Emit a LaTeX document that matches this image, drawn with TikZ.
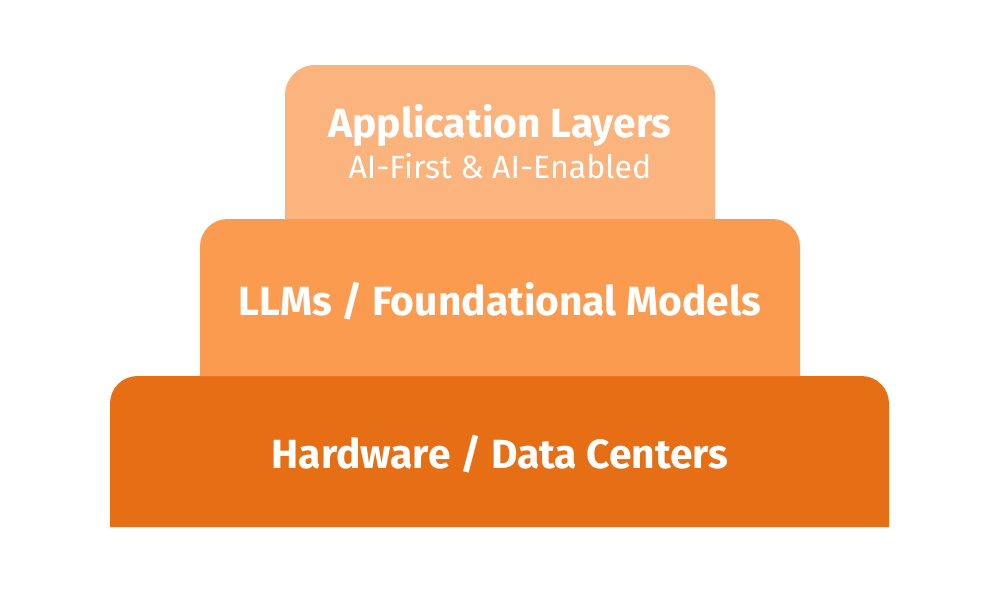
\documentclass[tikz,border=0pt]{standalone}
\usepackage{fontspec}
\setmainfont{Fira Sans}
\usepackage{xcolor}
\definecolor{apptone}{RGB}{251,180,126}
\definecolor{modeltone}{RGB}{250,155,80}
\definecolor{hwtone}{RGB}{230,110,20}

\tikzset{
  layertitle/.style={align=center, text=white, font=\fontsize{23.2}{27}\selectfont\bfseries},
  layersub/.style={align=center, text=white, font=\fontsize{18.3}{22}\selectfont}
}

\begin{document}
\begin{tikzpicture}[x=0.2mm, y=-0.2mm]
  \useasboundingbox (0,0) rectangle (1000,595);
  \fill[white] (0,0) rectangle (1000,595);

  % layers, bottom to top
  \fill[hwtone] (110,527) [rounded corners=5.5mm] -- (110,376) -- (889,376) [sharp corners] -- (889,527) -- cycle;
  \fill[modeltone] (200,376) [rounded corners=5.5mm] -- (200,219) -- (800,219) [sharp corners] -- (800,376) -- cycle;
  \fill[apptone] (285,219) [rounded corners=6mm] -- (285,65) -- (715,65) [sharp corners] -- (715,219) -- cycle;

  \node[layertitle] (apptitle) at (500,125) {Application Layers};
  \node[layersub] (appsub) at (500,166) {AI-First \& AI-Enabled};
  \node[layertitle] (models) at (500,301) {LLMs / Foundational Models};
  \node[layertitle] (hardware) at (500,454) {Hardware / Data Centers};

\end{tikzpicture}
\end{document}
